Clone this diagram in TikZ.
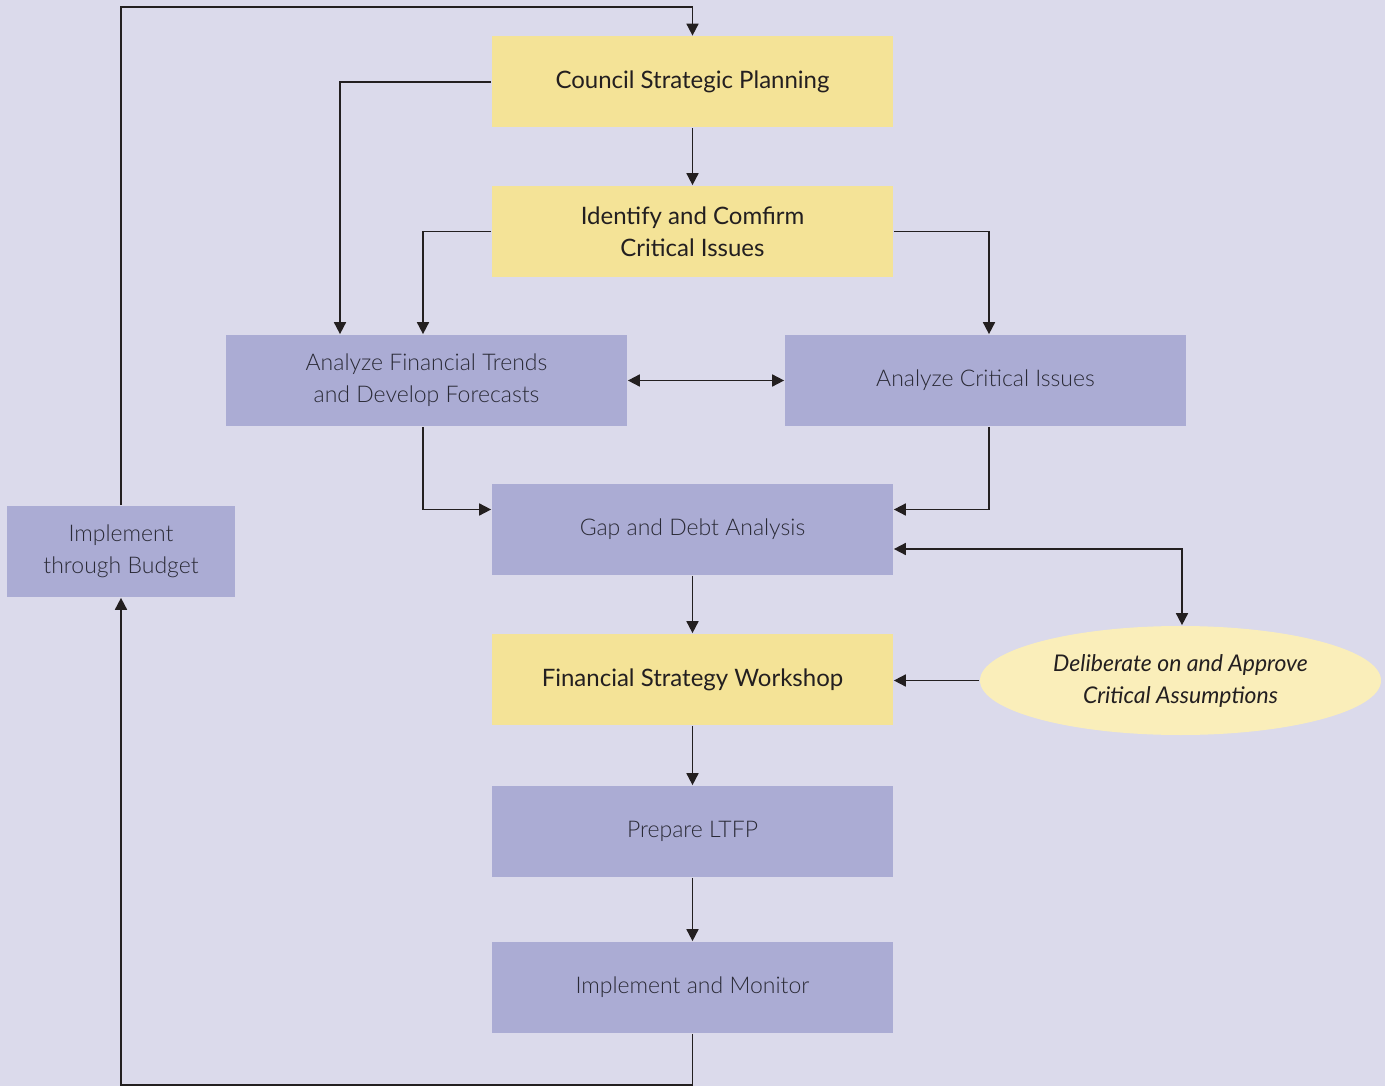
\documentclass[tikz,border=0pt]{standalone}
\usepackage{fontspec}
\setmainfont{Lato}
\newfontfamily\lightfont{Lato Light}
\usetikzlibrary{arrows.meta,shapes.geometric}

\definecolor{bgcol}{HTML}{DBDAEB}
\definecolor{planyellow}{HTML}{F4E397}
\definecolor{workblue}{HTML}{ABACD4}
\definecolor{ovalyellow}{HTML}{FAEEBA}
\definecolor{inkdark}{HTML}{231F20}
\definecolor{inkgray}{HTML}{2A2A36}

\begin{document}
\begin{tikzpicture}[
	x = 1pt, y = -1pt, % pixel grid of the chart
	> = {Triangle[length=12pt,width=12pt]}, % arrow head style
	line width = 1.7pt, % line style
	draw = inkdark,
	font = \fontsize{24}{32}\selectfont
	]
	
	\tikzstyle{plan}=[
	fill = planyellow,
	text = inkdark,
	minimum width = 401pt,
	minimum height = 91pt,
	align = center
	]
	\tikzstyle{work}=[
	fill = workblue,
	text = inkgray,
	minimum width = 401pt,
	minimum height = 91pt,
	align = center,
	font = \lightfont\fontsize{23}{32}\selectfont
	]
	
	\fill[bgcol] (0,0) rectangle (1385,1086);
	\useasboundingbox (0,0) rectangle (1385,1086);
	
	\node[plan] (council) at (692.5,82) {Council Strategic Planning};
	\node[plan] (issues) at (692.5,231.5) {Identify and Comfirm\\Critical Issues};
	\node[work] (trends) at (426.5,380.5) {Analyze Financial Trends\\and Develop Forecasts};
	\node[work] (crit) at (985.5,380.5) {Analyze Critical Issues};
	\node[work] (gap) at (692.5,529.5) {Gap and Debt Analysis};
	\node[plan] (workshop) at (692.5,679.5) {Financial Strategy Workshop};
	\node[work] (prep) at (692.5,831.5) {Prepare LTFP};
	\node[work] (imon) at (692.5,987.5) {Implement and Monitor};
	\node[work, minimum width=228pt] (budget) at (121,551.5) {Implement\\through Budget};
	\node[ellipse, fill=ovalyellow, text=inkdark, inner sep=0pt,
		minimum width=401pt, minimum height=109pt, align=center,
		font=\itshape\fontsize{23}{32}\selectfont]
		(delib) at (1180.5,680.5) {Deliberate on and Approve\\Critical Assumptions};
	
	\draw[->] (imon.south) -- ++(0,51) -| (budget.south);
	\draw[->] (budget.north) -- ++(0,-498) -| (council.north);
	\draw[->] (council.west) -| ([xshift=-86.5pt]trends.north);
	\draw[->] (council) -- (issues);
	\draw[->] (issues.west) -| ([xshift=-3.5pt]trends.north);
	\draw[->] (issues.east) -| ([xshift=3.5pt]crit.north);
	\draw[<->] (trends) -- (crit);
	\draw[->] ([xshift=-3.5pt]trends.south) |- ([yshift=20pt]gap.west);
	\draw[->] ([xshift=3.5pt]crit.south) |- ([yshift=20pt]gap.east);
	\draw[<->] ([yshift=-19.5pt]gap.east) -| ([xshift=1.5pt]delib.north);
	\draw[->] (gap) -- (workshop);
	\draw[->] (delib.west) -- (delib.west -| workshop.east);
	\draw[->] (workshop) -- (prep);
	\draw[->] (prep) -- (imon);
	
\end{tikzpicture}
\end{document}
